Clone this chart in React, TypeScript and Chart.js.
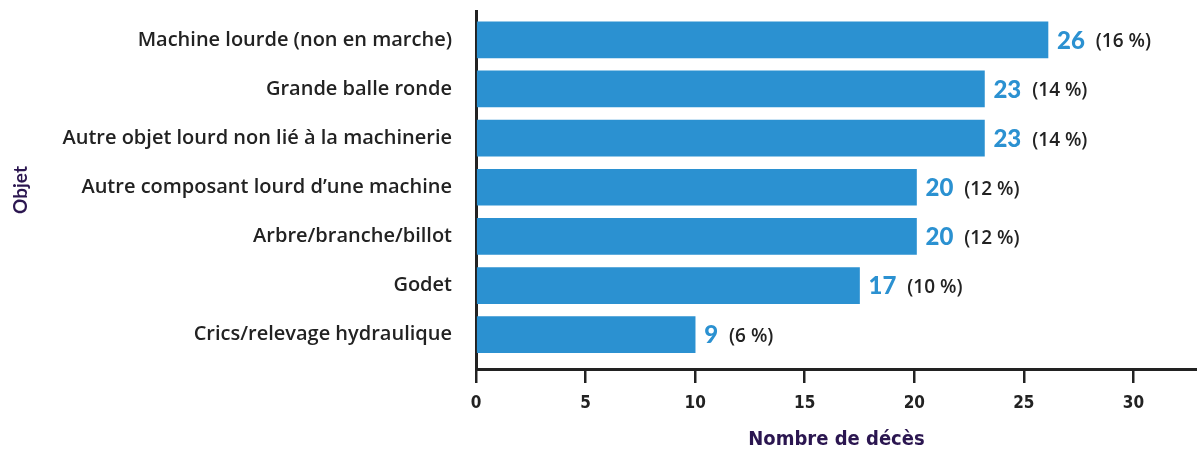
import React, { useEffect, useRef } from "react";
import { Chart, registerables } from "chart.js";

Chart.register(...registerables);

const categories = [
  "Machine lourde (non en marche)",
  "Grande balle ronde",
  "Autre objet lourd non lié à la machinerie",
  "Autre composant lourd d’une machine",
  "Arbre/branche/billot",
  "Godet",
  "Crics/relevage hydraulique",
];
// displayed counts
const counts = [26, 23, 23, 20, 20, 17, 9];
// bar lengths as drawn in the reference
const barLengths = [26.1, 23.2, 23.2, 20.1, 20.1, 17.5, 10.0];
const percents = ["16", "14", "14", "12", "12", "10", "6"];
const xTicks = [0, 5, 10, 15, 20, 25, 30];

const BLUE = "#2b91d1";
const DARK = "#222222";
const PURPLE = "#2b1650";
const LABEL_FONT = "'Open Sans', 'Noto Sans', sans-serif";
const NUM_FONT = "Lato, 'Noto Sans', sans-serif";
const COND_FONT = "'DejaVu Sans Condensed', 'DejaVu Sans', sans-serif";

const valueLabels = {
  id: "valueLabels",
  afterDatasetsDraw(chart: any) {
    const ctx = chart.ctx;
    const meta = chart.getDatasetMeta(0);
    ctx.save();
    ctx.textBaseline = "middle";
    ctx.textAlign = "left";
    meta.data.forEach((el: any, i: number) => {
      const x = el.x + 9;
      const y = el.y + 1;
      ctx.font = `900 24px ${NUM_FONT}`;
      ctx.fillStyle = BLUE;
      const s = String(counts[i]);
      ctx.fillText(s, x, y);
      const w = ctx.measureText(s).width;
      ctx.font = `600 19px ${LABEL_FONT}`;
      ctx.fillStyle = DARK;
      ctx.fillText(`(${percents[i]}\u00A0%)`, x + w + 11, y + 1);
    });
    ctx.restore();
  },
};

export default function App() {
  const ref = useRef<HTMLCanvasElement | null>(null);
  useEffect(() => {
    if (!ref.current) return;
    const chart = new Chart(ref.current, {
      type: "bar",
      data: {
        datasets: [
          {
            data: barLengths.map((v, i) => ({ x: v, y: i })),
            backgroundColor: BLUE,
            borderWidth: 0,
            barThickness: 36,
          },
        ],
      },
      options: {
        indexAxis: "y",
        responsive: false,
        animation: false,
        layout: { padding: { top: 11, right: 0, left: 0, bottom: 0 } },
        plugins: { legend: { display: false }, tooltip: { enabled: false } },
        scales: {
          x: {
            type: "linear",
            min: 0,
            max: 32.9,
            bounds: "data",
            offset: false,
            afterBuildTicks: (s: any) => {
              s.ticks = xTicks.map((v) => ({ value: v }));
              s.min = 0;
              s.max = 32.9;
            },
            afterFit: (s: any) => {
              s.height = 86;
              s.paddingLeft = 0;
              s.paddingRight = 0;
            },
            grid: {
              drawOnChartArea: false,
              drawTicks: true,
              tickLength: 14,
              color: DARK,
              lineWidth: 2.5,
            },
            border: { display: true, color: DARK, width: 3 },
            ticks: {
              padding: 10,
              color: DARK,
              font: { family: COND_FONT, size: 17, weight: "bold" },
            },
            title: {
              display: true,
              text: "Nombre de décès",
              color: PURPLE,
              padding: { top: 0, bottom: 3 },
              font: { family: COND_FONT, size: 20, weight: "bold" },
            },
          },
          y: {
            type: "linear",
            reverse: true,
            min: -0.586,
            max: 6.698,
            bounds: "data",
            offset: false,
            afterBuildTicks: (s: any) => {
              s.ticks = categories.map((_, i) => ({ value: i }));
              s.min = -0.586;
              s.max = 6.698;
            },
            afterFit: (s: any) => {
              s.width = 476;
              s.paddingTop = 0;
              s.paddingBottom = 0;
            },
            grid: { display: false, drawTicks: false, offset: false },
            border: { display: true, color: DARK, width: 3 },
            ticks: {
              padding: 24,
              color: DARK,
              autoSkip: false,
              callback: (v: any) => categories[v as number] ?? "",
              font: { family: LABEL_FONT, size: 20, weight: "600" },
            },
            title: {
              display: true,
              text: "Objet",
              color: PURPLE,
              padding: { top: 9, bottom: 0 },
              font: { family: NUM_FONT, size: 19, weight: "bold" },
            },
          },
        },
      },
      plugins: [valueLabels],
    } as any);
    return () => chart.destroy();
  }, []);
  return (
    <div style={{ position: "fixed", left: 0, top: 0, width: 1197, height: 455, background: "#fff" }}>
      <canvas ref={ref} width={1197} height={455} />
    </div>
  );
}
